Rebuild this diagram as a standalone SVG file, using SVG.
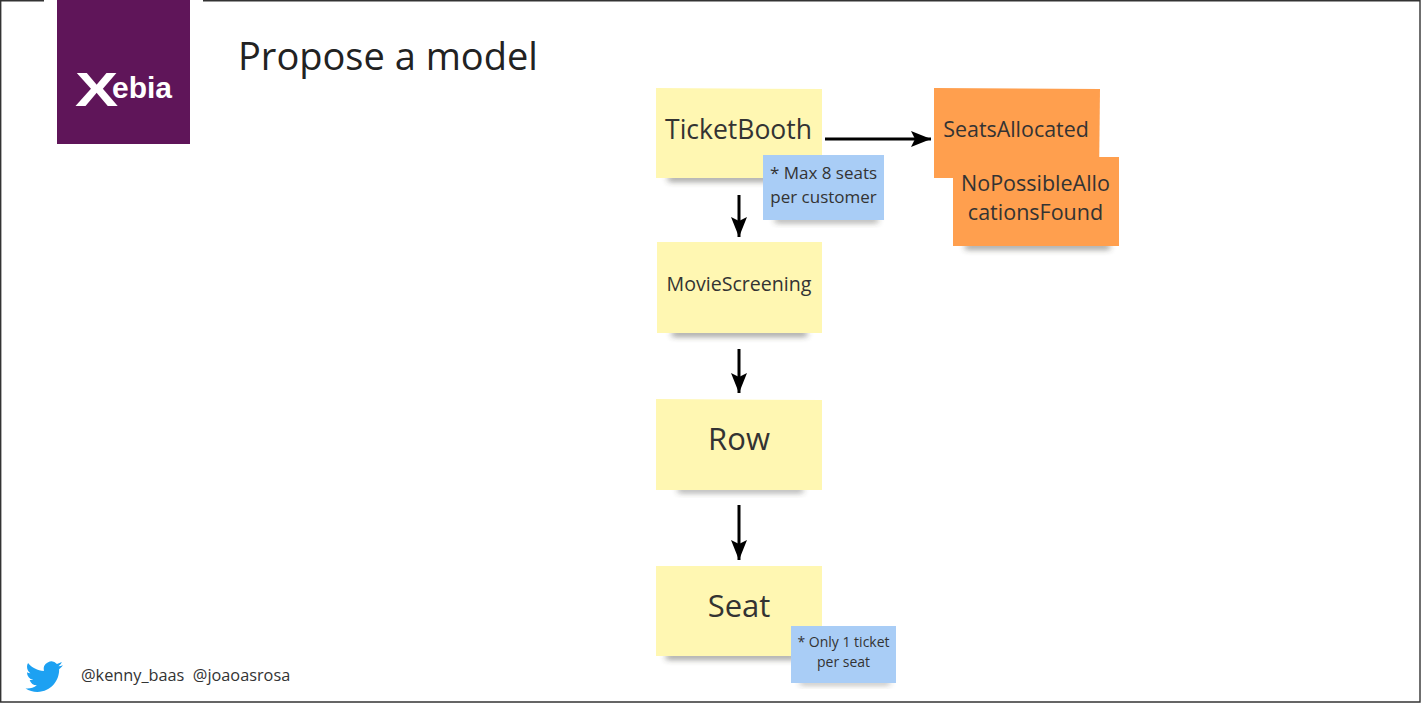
<svg xmlns="http://www.w3.org/2000/svg" width="1421" height="703" viewBox="0 0 1421 703">
<style>
text{font-family:"Open Sans","Noto Sans",sans-serif;fill:#333;text-anchor:middle}
.y{fill:#fff7b2}.o{fill:#ff9f4e}.b{fill:#a9cdf6}
.s{fill:#33302a;opacity:.6;filter:url(#bl)}
.c{fill:none;stroke:#000;stroke-width:3;marker-end:url(#ah)}
.l{text-anchor:start;fill:#fff;font-family:"Liberation Sans",sans-serif;font-weight:700}
</style>
<defs>
<filter id="bl" x="-20%" y="-150%" width="140%" height="400%"><feGaussianBlur stdDeviation="3"/></filter>
<marker id="ah" markerUnits="userSpaceOnUse" markerWidth="22" markerHeight="16" refX="20" refY="8" orient="auto"><path d="M0 0L20 8L0 16L4 8Z" fill="#000"/></marker>
</defs>
<rect width="1421" height="703" fill="#fff"/>
<path d="M44 .7H.7V702H1420V.7H203" fill="none" stroke="#333" stroke-width="1.4"/>
<g id="logo">
<rect x="57" y="0" width="133" height="144" fill="#5f1559"/>
<text class="l" transform="translate(75 106) scale(1.35 1)" font-size="48">X</text>
<text class="l" x="112" y="98" font-size="30" textLength="60" lengthAdjust="spacingAndGlyphs">ebia</text>
</g>
<text id="title" x="238" y="70" style="text-anchor:start;fill:#222;font-size:38px">Propose a model</text>
<g id="footer">
<path fill="#1da1f2" transform="translate(25.5 658) scale(1.56)" d="M23.953 4.57a10 10 0 01-2.825.775 4.958 4.958 0 002.163-2.723c-.951.555-2.005.959-3.127 1.184a4.92 4.92 0 00-8.384 4.482C7.69 8.095 4.067 6.13 1.64 3.162a4.822 4.822 0 00-.666 2.475c0 1.71.87 3.213 2.188 4.096a4.904 4.904 0 01-2.228-.616v.06a4.923 4.923 0 003.946 4.827 4.996 4.996 0 01-2.212.085 4.936 4.936 0 004.604 3.417 9.867 9.867 0 01-6.102 2.105c-.39 0-.779-.023-1.17-.067a13.995 13.995 0 007.557 2.209c9.053 0 13.998-7.496 13.998-13.985 0-.21 0-.42-.015-.63A9.935 9.935 0 0024 4.59z"/>
<text x="81" y="681" xml:space="preserve" style="text-anchor:start;font-size:16.300px">@kenny_baas  @joaoasrosa</text>
</g>
<g id="connectors">
<path class="c" d="M825 139H931"/>
<path class="c" d="M739 195V237"/>
<path class="c" d="M739 349V393"/>
<path class="c" d="M739 505V560"/>
</g>
<g id="ticketbooth">
<rect class="s" x="668" y="176" width="125" height="5"/>
<path class="y" d="M656 88L822 89V178H656Z"/>
<text x="738.500" y="139" font-size="26.500">TicketBooth</text>
</g>
<g id="moviescreening">
<rect class="s" x="672" y="331" width="135" height="5"/>
<path class="y" d="M657 242H822V333H657Z"/>
<text x="739" y="291" font-size="19.600">MovieScreening</text>
</g>
<g id="row">
<rect class="s" x="678" y="488" width="125" height="4"/>
<path class="y" d="M656 399L822 400V490H656Z"/>
<text x="739" y="450" font-size="31">Row</text>
</g>
<g id="seat">
<rect class="s" x="666" y="654" width="130" height="5"/>
<path class="y" d="M656 566H822V656H656Z"/>
<text x="739" y="617" font-size="31">Seat</text>
</g>
<g id="note-max">
<rect class="s" x="775" y="218" width="103" height="4"/>
<rect class="b" x="763" y="155" width="121" height="65"/>
<text x="823.500" y="179" font-size="17">* Max 8 seats</text>
<text x="823.500" y="203" font-size="17">per customer</text>
</g>
<g id="note-only">
<rect class="s" x="800" y="681" width="90" height="3"/>
<rect class="b" x="791" y="626" width="105" height="57"/>
<text x="843.500" y="647" font-size="14">* Only 1 ticket</text>
<text x="843.500" y="667" font-size="14">per seat</text>
</g>
<g id="seatsallocated">
<path class="o" d="M934 88L1100 89L1099 178H934Z"/>
<text x="1016" y="137" font-size="21.400">SeatsAllocated</text>
</g>
<g id="nopossible">
<rect class="s" x="965" y="244" width="145" height="5"/>
<rect class="o" x="953" y="157" width="166" height="89"/>
<text x="1035.500" y="191" font-size="21.500">NoPossibleAllo</text>
<text x="1035.500" y="220" font-size="21.500">cationsFound</text>
</g>
</svg>
